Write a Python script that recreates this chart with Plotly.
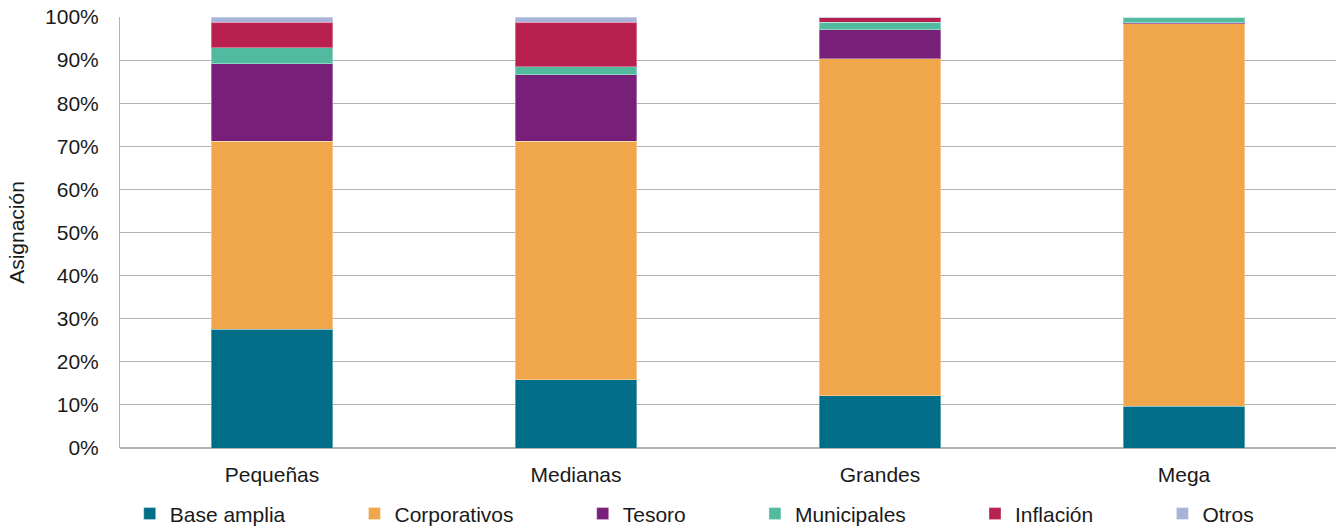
import plotly.graph_objects as go

# Asset allocation by fund size (share of portfolio, %)
categorias = ["Pequeñas", "Medianas", "Grandes", "Mega"]
base_amplia = [27.6, 15.8, 12.1, 9.7]
corporativos = [43.6, 55.4, 78.2, 88.7]
tesoro = [18.0, 15.4, 6.8, 0.3]
municipales = [3.7, 1.9, 1.7, 1.3]
inflacion = [5.9, 10.3, 1.0, 0.0]
otros = [1.2, 1.2, 0.2, 0.0]

series = [
    ("Base amplia", base_amplia, "#006E87"),
    ("Corporativos", corporativos, "#F0A64B"),
    ("Tesoro", tesoro, "#782079"),
    ("Municipales", municipales, "#52BB9F"),
    ("Inflación", inflacion, "#B8214F"),
    ("Otros", otros, "#A9B3DA"),
]

FONT = "Liberation Sans, Arial, sans-serif"
TEXT = "#1a1a1a"
PAD = "\u00a0" * 11

fig = go.Figure()
for i, (nombre, valores, color) in enumerate(series):
    etiqueta = nombre if i == len(series) - 1 else nombre + PAD
    fig.add_trace(go.Bar(
        name=etiqueta,
        x=categorias,
        y=valores,
        marker=dict(color=color, line=dict(color="rgba(255,255,255,0.35)", width=1)),
        width=0.4,
    ))

fig.update_layout(
    barmode="stack",
    width=1338,
    height=527,
    margin=dict(l=120, r=2, t=17, b=79, autoexpand=False),
    paper_bgcolor="white",
    plot_bgcolor="white",
    font=dict(family=FONT, size=21, color=TEXT),
    showlegend=True,
    legend=dict(
        orientation="h",
        x=0.008, xanchor="left",
        y=-0.153, yanchor="middle",
        font=dict(family=FONT, size=21, color=TEXT),
        itemwidth=30,
        traceorder="normal",
        itemclick=False,
    ),
    xaxis=dict(
        showgrid=False,
        ticks="outside",
        ticklen=8,
        tickcolor="rgba(0,0,0,0)",
        showline=False,
    ),
    yaxis=dict(
        range=[0, 100],
        dtick=10,
        ticksuffix="%",
        showgrid=True,
        gridcolor="#B3B3B3",
        gridwidth=1,
        showline=True,
        linecolor="#B3B3B3",
        zeroline=True,
        zerolinecolor="#B3B3B3",
        ticks="outside",
        ticklen=16,
        tickcolor="rgba(0,0,0,0)",
        title=dict(text="Asignación", font=dict(family=FONT, size=21, color=TEXT), standoff=14),
    ),
)

fig.write_html("out.html")
